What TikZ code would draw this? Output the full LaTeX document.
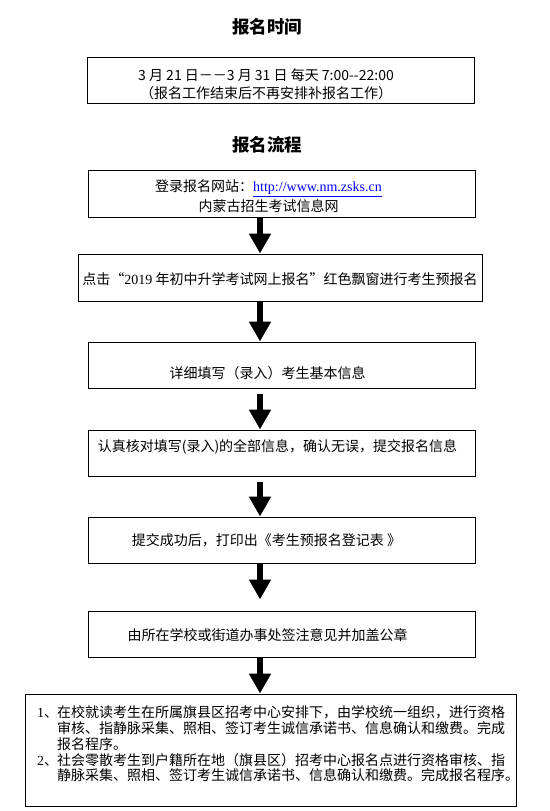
\documentclass[tikz,border=0pt]{standalone}
\usepackage{fontspec}
\setmainfont{Noto Sans CJK SC}
\newfontfamily\tnr{Liberation Serif}
\usetikzlibrary{arrows.meta,calc}
\tikzstyle{stepbox}=[draw=black,
                     line width=1pt,
                     minimum width=387pt,
                     minimum height=46pt,
                     inner sep=0pt]
\tikzstyle{boxtext}=[align=center,
                     inner sep=0pt,
                     font=\fontsize{14}{20}\selectfont]
\tikzstyle{title}=[inner sep=0pt,font=\fontsize{17.5}{20}\selectfont\bfseries]
\tikzstyle{flow}=[line width=6pt,-{Triangle[width=21pt,length=20pt]}]
\newcommand{\itemno}[1]{\makebox[20pt][l]{{\tnr #1}、}}

\begin{document}
\begin{tikzpicture}[x=1pt,y=-1pt]
    \useasboundingbox (0,0) rectangle (549,811);
    \coordinate (ax) at (260,0);
    % registration time
    \node[title] (timehead) at (267,27) {报名时间};
    \node[stepbox] (time) at (281,80) {};
    \node[boxtext,font=\fontsize{14}{18}\selectfont] (timetext) at ([xshift=-15pt,yshift=-4pt]time.center)
        {3 月 21 日－－3 月 31 日 每天 7:00-{}-22:00\\（报名工作结束后不再安排补报名工作）};
    % registration steps
    \node[title] (flowhead) at (267,145) {报名流程};
    \node[stepbox,minimum height=47pt] (login) at (281.5,193.5) {};
    \node[boxtext] (logintext) at ([xshift=-13pt,yshift=-3pt]login.center)
        {登录报名网站：{\tnr\color{blue}\underline{http://www.nm.zsks.cn}}\\内蒙古招生考试信息网};
    \node[stepbox,minimum width=404pt,minimum height=47pt] (click) at (280,277.5) {};
    \node[boxtext] (clicktext) at ([yshift=-2pt]click.center)
        {点击“{\tnr 2019} 年初中升学考试网上报名”红色飘窗进行考生预报名};
    \node[stepbox] (fill) at (281.5,365) {};
    \node[boxtext] (filltext) at ([xshift=-14pt,yshift=-8pt]fill.center) {详细填写（录入）考生基本信息};
    \node[stepbox] (check) at (281.5,453) {};
    \node[boxtext] (checktext) at ([xshift=-4pt,yshift=6pt]check.center)
        {认真核对填写(录入)的全部信息，确认无误，提交报名信息};
    \node[stepbox] (print) at (281.5,540) {};
    \node[boxtext] (printtext) at ([xshift=-15pt]print.center) {提交成功后，打印出《考生预报名登记表 》};
    \node[stepbox] (stamp) at (281.5,634) {};
    \node[boxtext] (stamptext) at ([xshift=-14pt,yshift=-1pt]stamp.center) {由所在学校或街道办事处签注意见并加盖公章};
    \node[stepbox,minimum width=491pt,minimum height=112pt] (confirm) at (270.5,750) {};
    \node[boxtext,align=left,anchor=west,font=\fontsize{14}{15.7}\selectfont] (confirmtext) at (37,744)
        {\itemno{1}在校就读考生在所属旗县区招考中心安排下，由学校统一组织，进行资格\\
         \hspace*{20pt}审核、指静脉采集、照相、签订考生诚信承诺书、信息确认和缴费。完成\\
         \hspace*{20pt}报名程序。\\
         \itemno{2}社会零散考生到户籍所在地（旗县区）招考中心报名点进行资格审核、指\\
         \hspace*{20pt}静脉采集、照相、签订考生诚信承诺书、信息确认和缴费。完成报名程序。};
    % arrows
    \draw[flow] (login.south -| ax) -- (click.north -| ax);
    \draw[flow] (click.south -| ax) -- (fill.north -| ax);
    \draw[flow] ([yshift=-5pt]fill.south -| ax) -- (check.north -| ax);
    \draw[flow] ([yshift=-5pt]check.south -| ax) -- (print.north -| ax);
    \draw[flow] (print.south -| ax) -- ([yshift=11pt]stamp.north -| ax);
    \draw[flow] (stamp.south -| ax) -- (confirm.north -| ax);
\end{tikzpicture}
\end{document}
